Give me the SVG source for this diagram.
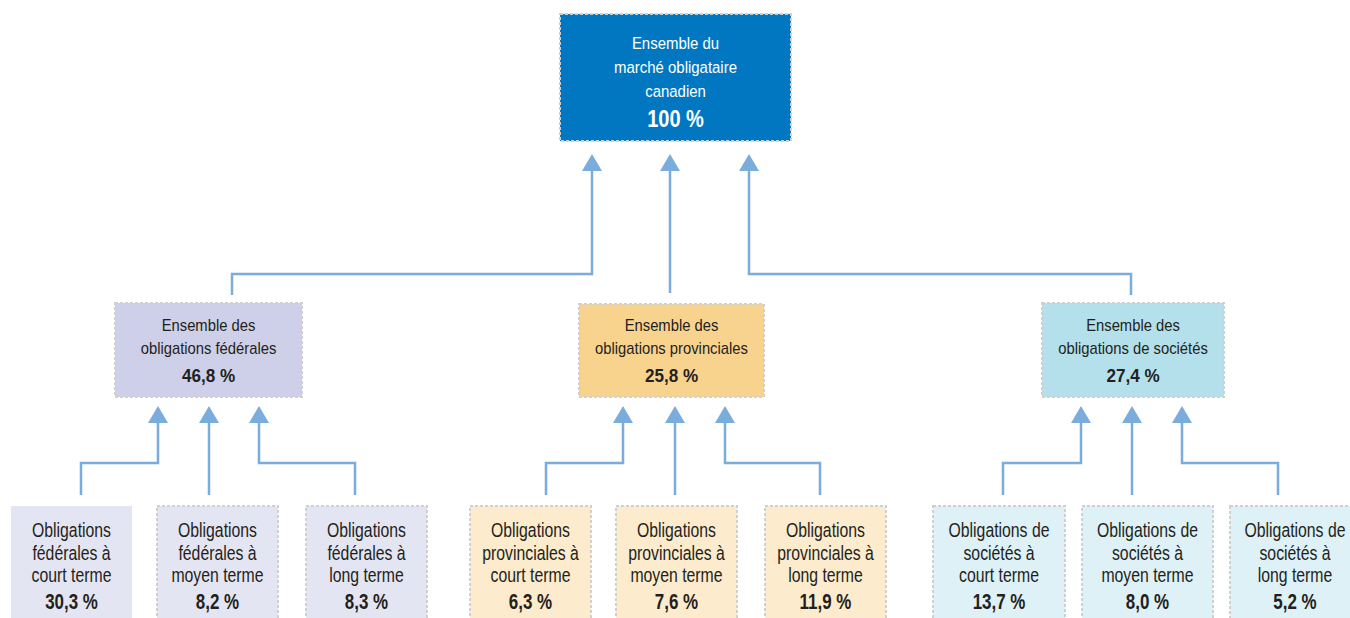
<svg xmlns="http://www.w3.org/2000/svg" width="1350" height="618" viewBox="0 0 1350 618">
<style>
text{font-family:"Liberation Sans",Arial,sans-serif;text-anchor:middle;fill:#231f20}
.t{font-size:17px}
.b{font-size:19.5px}
.p{font-size:22px;font-weight:bold}
.q{font-size:19px;font-weight:bold}
.w{fill:#ffffff}
.box{stroke:#d0d0d0;stroke-width:2;stroke-dasharray:3 2}
.c{fill:none;stroke:#7aacdc;stroke-width:2.5;marker-end:url(#ah)}
</style>
<defs>
<marker id="ah" viewBox="0 0 17 20" markerWidth="17" markerHeight="20" refX="11" refY="10" orient="auto" markerUnits="userSpaceOnUse">
<path d="M0,0 L17,10 L0,20 z" fill="#7aacdc"/>
</marker>
</defs>
<rect width="1350" height="618" fill="#ffffff"/>
<g id="connectors">
<path class="c" d="M232,295 V274 H592 V160"/>
<path class="c" d="M670,293 V160"/>
<path class="c" d="M1131,295 V274 H749 V160"/>
<path class="c" d="M81,495 V463 H158 V412"/>
<path class="c" d="M209,495 V412"/>
<path class="c" d="M355,495 V463 H259 V412"/>
<path class="c" d="M546,495 V463 H623 V412"/>
<path class="c" d="M675,495 V412"/>
<path class="c" d="M820,495 V463 H725 V412"/>
<path class="c" d="M1003,495 V463 H1081 V412"/>
<path class="c" d="M1132,495 V412"/>
<path class="c" d="M1278,495 V463 H1182 V412"/>
</g>
<g id="root">
<rect class="box" x="560" y="14" width="231" height="127" fill="#0077c0"/>
<text class="t w" transform="translate(675.5 49) scale(.88 1)">Ensemble du</text>
<text class="t w" transform="translate(675.5 73) scale(.88 1)">marché obligataire</text>
<text class="t w" transform="translate(675.5 97) scale(.88 1)">canadien</text>
<text class="w" transform="translate(675.5 127) scale(.87 1)" style="font-size:23px;font-weight:bold">100 %</text>
</g>
<g id="federal">
<rect class="box" x="115" y="303" width="187" height="94" fill="#cdd0e8"/>
<text class="t" transform="translate(208.5 331) scale(.87 1)">Ensemble des</text>
<text class="t" transform="translate(208.5 354) scale(.87 1)">obligations fédérales</text>
<text class="q" transform="translate(208.5 382) scale(.9 1)">46,8 %</text>
</g>
<g id="provincial">
<rect class="box" x="579" y="304" width="185" height="93" fill="#f7d38e"/>
<text class="t" transform="translate(671.5 331) scale(.87 1)">Ensemble des</text>
<text class="t" transform="translate(671.5 354) scale(.87 1)">obligations provinciales</text>
<text class="q" transform="translate(671.5 382) scale(.9 1)">25,8 %</text>
</g>
<g id="societes">
<rect class="box" x="1042" y="303" width="182" height="94" fill="#b3e0ea"/>
<text class="t" transform="translate(1133 331) scale(.87 1)">Ensemble des</text>
<text class="t" transform="translate(1133 354) scale(.87 1)">obligations de sociétés</text>
<text class="q" transform="translate(1133 382) scale(.9 1)">27,4 %</text>
</g>
<g id="fed-court">
<rect x="11" y="506" width="121" height="114" fill="#e4e5f2"/>
<text class="b" transform="translate(71.5 537) scale(.81 1)">Obligations</text>
<text class="b" transform="translate(71.5 559.5) scale(.81 1)">fédérales à</text>
<text class="b" transform="translate(71.5 582) scale(.81 1)">court terme</text>
<text class="p" transform="translate(71.5 609) scale(.77 1)">30,3 %</text>
</g>
<g id="fed-moyen">
<rect class="box" x="157" y="506" width="121" height="114" fill="#e4e5f2"/>
<text class="b" transform="translate(217.5 537) scale(.81 1)">Obligations</text>
<text class="b" transform="translate(217.5 559.5) scale(.81 1)">fédérales à</text>
<text class="b" transform="translate(217.5 582) scale(.81 1)">moyen terme</text>
<text class="p" transform="translate(217.5 609) scale(.77 1)">8,2 %</text>
</g>
<g id="fed-long">
<rect class="box" x="306" y="506" width="121" height="114" fill="#e4e5f2"/>
<text class="b" transform="translate(366.5 537) scale(.81 1)">Obligations</text>
<text class="b" transform="translate(366.5 559.5) scale(.81 1)">fédérales à</text>
<text class="b" transform="translate(366.5 582) scale(.81 1)">long terme</text>
<text class="p" transform="translate(366.5 609) scale(.77 1)">8,3 %</text>
</g>
<g id="prov-court">
<rect class="box" x="470" y="506" width="121" height="114" fill="#fcebcc"/>
<text class="b" transform="translate(530.5 537) scale(.81 1)">Obligations</text>
<text class="b" transform="translate(530.5 559.5) scale(.81 1)">provinciales à</text>
<text class="b" transform="translate(530.5 582) scale(.81 1)">court terme</text>
<text class="p" transform="translate(530.5 609) scale(.77 1)">6,3 %</text>
</g>
<g id="prov-moyen">
<rect class="box" x="616" y="506" width="121" height="114" fill="#fcebcc"/>
<text class="b" transform="translate(676.5 537) scale(.81 1)">Obligations</text>
<text class="b" transform="translate(676.5 559.5) scale(.81 1)">provinciales à</text>
<text class="b" transform="translate(676.5 582) scale(.81 1)">moyen terme</text>
<text class="p" transform="translate(676.5 609) scale(.77 1)">7,6 %</text>
</g>
<g id="prov-long">
<rect class="box" x="765" y="506" width="121" height="114" fill="#fcebcc"/>
<text class="b" transform="translate(825.5 537) scale(.81 1)">Obligations</text>
<text class="b" transform="translate(825.5 559.5) scale(.81 1)">provinciales à</text>
<text class="b" transform="translate(825.5 582) scale(.81 1)">long terme</text>
<text class="p" transform="translate(825.5 609) scale(.77 1)">11,9 %</text>
</g>
<g id="soc-court">
<rect class="box" x="933" y="506" width="132" height="114" fill="#ddf1f6"/>
<text class="b" transform="translate(999 537) scale(.81 1)">Obligations de</text>
<text class="b" transform="translate(999 559.5) scale(.81 1)">sociétés à</text>
<text class="b" transform="translate(999 582) scale(.81 1)">court terme</text>
<text class="p" transform="translate(999 609) scale(.77 1)">13,7 %</text>
</g>
<g id="soc-moyen">
<rect class="box" x="1082" y="506" width="131" height="114" fill="#ddf1f6"/>
<text class="b" transform="translate(1147.5 537) scale(.81 1)">Obligations de</text>
<text class="b" transform="translate(1147.5 559.5) scale(.81 1)">sociétés à</text>
<text class="b" transform="translate(1147.5 582) scale(.81 1)">moyen terme</text>
<text class="p" transform="translate(1147.5 609) scale(.77 1)">8,0 %</text>
</g>
<g id="soc-long">
<rect class="box" x="1230" y="506" width="130" height="114" fill="#ddf1f6"/>
<text class="b" transform="translate(1295 537) scale(.81 1)">Obligations de</text>
<text class="b" transform="translate(1295 559.5) scale(.81 1)">sociétés à</text>
<text class="b" transform="translate(1295 582) scale(.81 1)">long terme</text>
<text class="p" transform="translate(1295 609) scale(.77 1)">5,2 %</text>
</g>
</svg>
